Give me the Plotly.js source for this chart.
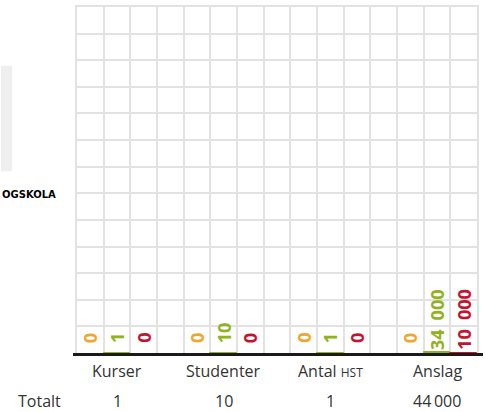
<!DOCTYPE html>
<html>
<head>
<meta charset="utf-8">
<script src="https://cdn.plot.ly/plotly-3.0.1.min.js"></script>
<style>html,body{margin:0;padding:0;background:#fff;}#chart{width:485px;height:412px;}</style>
</head>
<body>
<div id="chart"></div>
<script>
// ---- data ----
var categories = ['Kurser', 'Studenter', 'Antal <span style="font-size:12px">HST</span>', 'Anslag'];
var seriesOrange = [0, 0, 0, 0];
var seriesGreen = [1, 10, 1, 34000];
var seriesRed = [0, 0, 0, 10000];
var totals = [1, 10, 1, 44000];
var seriesColors = ['#f2a52b', '#8fb21e', '#c4122f'];

function fmt(v, sep) { return String(v).replace(/\B(?=(\d{3})+(?!\d))/g, sep); }

var allSeries = [seriesOrange, seriesGreen, seriesRed];
var traces = [];
var annotations = [];
allSeries.forEach(function (vals, j) {
  var xs = vals.map(function (v, i) { return 4 * i + j; });
  traces.push({
    type: 'bar', x: xs, y: vals, width: 1,
    marker: {color: seriesColors[j], line: {color: seriesColors[j],
      width: vals.map(function (v) { return v > 0 ? 1 : 0; })}},
    hoverinfo: 'skip', showlegend: false
  });
  vals.forEach(function (v, i) {
    var t = fmt(v, '\u2002');
    annotations.push({
      xref: 'x', yref: 'paper', x: 4 * i + j, y: 0, yanchor: 'bottom', xanchor: 'center',
      yshift: t.length > 2 ? 1 : 8, text: t, textangle: -90, showarrow: false,
      font: {family: 'Open Sans', size: 18, color: seriesColors[j], weight: 'bold'}
    });
  });
});
categories.forEach(function (c, i) {
  annotations.push({xref: 'x', yref: 'paper', x: 4 * i + 1, y: 0, yanchor: 'middle', yshift: -18,
    text: c, showarrow: false, font: {family: 'Open Sans', size: 16, color: '#333'}});
  annotations.push({xref: 'x', yref: 'paper', x: 4 * i + 1, y: 0, yanchor: 'middle', yshift: -48,
    text: fmt(totals[i], '\u2009'), showarrow: false, font: {family: 'Open Sans', size: 16, color: '#333'}});
});
annotations.push({xref: 'paper', yref: 'paper', x: 0, y: 0, xanchor: 'right', yanchor: 'middle',
  xshift: -14, yshift: -48, text: 'Totalt', showarrow: false,
  font: {family: 'Open Sans', size: 16, color: '#333'}});
annotations.push({xref: 'paper', yref: 'paper', x: 0, y: 0, xanchor: 'left', yanchor: 'middle',
  xshift: -77, yshift: 159, text: 'OGSKOLA', showarrow: false,
  font: {family: 'DejaVu Sans', size: 10, color: '#000', weight: 'bold'}});

var gridX = [];
for (var k = -0.5; k <= 14.5; k += 1) gridX.push(k);
var gridY = [];
for (var r = 0; r <= 13; r++) gridY.push(r * 1e6);

var gridColor = '#e2e2e2';
var layout = {
  width: 485, height: 412,
  margin: {l: 77, r: 8, t: 7, b: 59},
  paper_bgcolor: '#fff', plot_bgcolor: '#fff',
  showlegend: false,
  bargap: 0,
  xaxis: {range: [-0.5, 14.5], tickmode: 'array', tickvals: gridX, showticklabels: false,
    ticks: '', showgrid: true, gridcolor: gridColor, gridwidth: 2, zeroline: false, fixedrange: true,
    showline: true, mirror: true, linecolor: gridColor, linewidth: 2},
  yaxis: {range: [0, 13e6], tickmode: 'array', tickvals: gridY, showticklabels: false, ticks: '', showgrid: true,
    gridcolor: gridColor, gridwidth: 2, zeroline: false, fixedrange: true,
    showline: true, mirror: true, linecolor: gridColor, linewidth: 2},
  shapes: [
    {type: 'rect', xref: 'paper', yref: 'paper', x0: -0.19, x1: -0.162, y0: 0.525, y1: 0.83,
      fillcolor: '#efefef', line: {width: 0}, layer: 'below'},
    {type: 'line', xref: 'paper', yref: 'paper', ysizemode: 'pixel', yanchor: 0,
      x0: -0.01, x1: 1.015, y0: -1.5, y1: -1.5,
      line: {color: '#1a1a1a', width: 3}}
  ],
  annotations: annotations
};
Plotly.newPlot('chart', traces, layout, {displayModeBar: false});
</script>
</body>
</html>
